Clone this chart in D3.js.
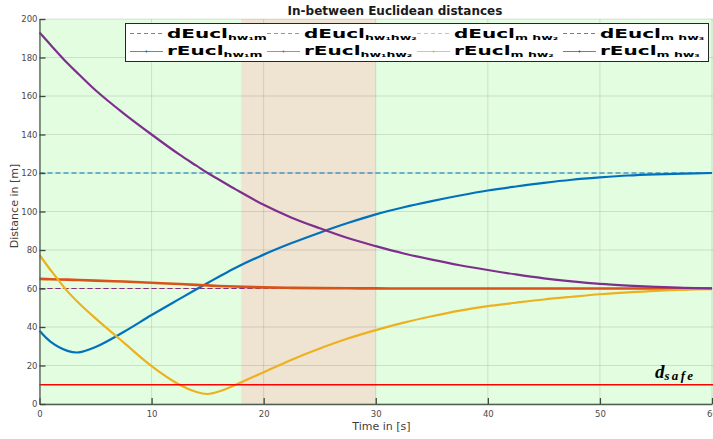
<!DOCTYPE html>
<html><head><meta charset="utf-8">
<script src="https://cdn.jsdelivr.net/npm/d3@7"></script>
<style>body{margin:0;background:#fff;} svg{display:block;}</style>
</head><body>
<svg id="c" width="713" height="439"></svg>
<script>
// ---------- data ----------
const timeS   = [0, 1, 2.5, 3.5, 5, 7.5, 10, 12.5, 14, 15, 16, 17.5, 20, 22.5, 25, 27.5, 30, 32.5, 35, 37.5, 40, 42.5, 45, 47.5, 50, 52.5, 55, 57.5, 60];
const rHw1m   = [38, 32.3, 27.6, 26.8, 29.6, 37.4, 46.2, 54.6, 59.6, 62.9, 66.1, 70.8, 77.6, 83.6, 89, 94, 98.5, 102.2, 105.4, 108.3, 110.9, 113, 114.9, 116.5, 117.7, 118.7, 119.3, 119.7, 120];
const rHw1hw2 = [65, 64.8, 64.6, 64.4, 64.1, 63.6, 63.0, 62.3, 61.9, 61.6, 61.3, 61.0, 60.6, 60.35, 60.2, 60.1, 60.05, 60.03, 60.02, 60.01, 60, 60, 60, 60, 60, 60, 60, 60, 60];
const rMhw2   = [77.4, 69.5, 58.5, 52.5, 44.5, 32, 19.7, 10, 6.2, 5.2, 6.5, 10, 16.5, 23, 28.8, 34, 38.4, 42.3, 45.6, 48.5, 50.8, 52.6, 54.3, 55.7, 57, 58, 58.8, 59.3, 59.7];
const rMhw3   = [193, 186.5, 177, 171.3, 163, 151, 140, 129.5, 123.8, 120, 116.6, 111.5, 103.5, 96.8, 91.3, 86.2, 82, 78.2, 75, 72.1, 69.6, 67.3, 65.3, 63.7, 62.4, 61.5, 60.8, 60.3, 60.1];
const dValues = [120, 60, 60, 60];
const seriesSub = ["hw\u2081m", "hw\u2081hw\u2082", "m hw\u2082", "m hw\u2083"];
const seriesColors = ["#0072BD", "#D95319", "#EDB120", "#7E2F8E"];
const dSafe = 10;
const shadeRange = [18, 30];
const xTicks = [0, 10, 20, 30, 40, 50, 60];
const yTicks = [0, 20, 40, 60, 80, 100, 120, 140, 160, 180, 200];
const titleText = "In-between Euclidean distances";
const xLabel = "Time in [s]";
const yLabel = "Distance in [m]";

// ---------- layout ----------
const svg = d3.select("#c");
const L = 39.5, R = 712, T = 19, B = 404;
const x = d3.scaleLinear().domain([0, 60]).range([L, R]);
const y = d3.scaleLinear().domain([0, 200]).range([B, T]);

// backgrounds
svg.append("rect").attr("x", L).attr("y", T).attr("width", 713 - L).attr("height", B - T).attr("fill", "#e3fde1");
svg.append("rect").attr("x", x(shadeRange[0])).attr("y", T)
  .attr("width", x(shadeRange[1]) - x(shadeRange[0])).attr("height", B - T).attr("fill", "#efe3d1");

// grid
const grid = svg.append("g").attr("stroke", "rgba(0,0,0,0.11)").attr("stroke-width", 1);
grid.selectAll("line.gx").data(xTicks).join("line").attr("class", "gx")
  .attr("x1", d => x(d)).attr("x2", d => x(d)).attr("y1", T).attr("y2", B);
grid.selectAll("line.gy").data(yTicks).join("line").attr("class", "gy")
  .attr("x1", L).attr("x2", 713).attr("y1", d => y(d)).attr("y2", d => y(d));

// series
const pts = vals => timeS.map((t, i) => [t, vals[i]]);
const line = d3.line().x(d => x(d[0])).y(d => y(d[1])).curve(d3.curveCatmullRom.alpha(0.5));
const rSeries = [rHw1m, rHw1hw2, rMhw2, rMhw3];

dValues.forEach((v, i) => {
  svg.append("line").attr("x1", x(0)).attr("x2", x(60)).attr("y1", y(v)).attr("y2", y(v))
    .attr("stroke", seriesColors[i]).attr("stroke-width", 1).attr("stroke-dasharray", "5,3");
});
rSeries.forEach((vals, i) => {
  svg.append("path").datum(pts(vals)).attr("d", line).attr("fill", "none")
    .attr("stroke", seriesColors[i]).attr("stroke-width", i === 1 ? 2.6 : 2.2);
});
svg.append("line").attr("x1", x(0)).attr("x2", 713).attr("y1", y(dSafe)).attr("y2", y(dSafe))
  .attr("stroke", "#ff0000").attr("stroke-width", 1.6);

// axes
const ax = svg.append("g").attr("transform", `translate(0,${B})`)
  .call(d3.axisBottom(x).tickValues(xTicks).tickSizeInner(-6).tickSizeOuter(0).tickPadding(7).tickFormat(d3.format("d")));
const ay = svg.append("g").attr("transform", `translate(${L},0)`)
  .call(d3.axisLeft(y).tickValues(yTicks).tickSizeInner(-6).tickSizeOuter(0).tickPadding(2).tickFormat(d3.format("d")));
[ax, ay].forEach(g => {
  g.select(".domain").attr("stroke", "#4f5f4f").attr("stroke-width", 1.3);
  g.selectAll(".tick line").attr("stroke", "#3a4a3a").attr("stroke-width", 1.3);
  g.selectAll(".tick text").attr("fill", "#4a4a4a").attr("font-family", "DejaVu Sans").attr("font-size", 8.5);
});

// labels
svg.append("text").attr("x", 395).attr("y", 15).attr("text-anchor", "middle")
  .attr("font-family", "DejaVu Sans").attr("font-weight", "bold").attr("font-size", 12).attr("fill", "#1a1a1a").text(titleText);
svg.append("text").attr("x", 381.5).attr("y", 430).attr("text-anchor", "middle")
  .attr("font-family", "DejaVu Sans").attr("font-size", 11).attr("fill", "#404040").text(xLabel);
svg.append("text").attr("transform", "translate(18,206) rotate(-90)").attr("text-anchor", "middle")
  .attr("font-family", "DejaVu Sans").attr("font-size", 11).attr("fill", "#404040").text(yLabel);

// d_safe label
const ds = svg.append("text").attr("x", 655).attr("y", 378)
  .attr("font-family", "Liberation Serif").attr("font-style", "italic").attr("font-weight", "bold")
  .attr("font-size", 19).attr("fill", "#000");
ds.append("tspan").text("d");
ds.append("tspan").attr("font-size", 13).attr("dy", 1.5).attr("letter-spacing", 2.3).text("safe");

// legend
svg.append("rect").attr("x", 125.5).attr("y", 23.5).attr("width", 583).attr("height", 38)
  .attr("fill", "#ffffff").attr("stroke", "#262626").attr("stroke-width", 1);
const tmp = svg.append("text").attr("font-family", "DejaVu Sans").attr("font-weight", "bold").attr("font-size", 12).text("dEucl");
const sx = 61 / tmp.node().getComputedTextLength();
tmp.remove();
const entryX = [130, 267, 417, 563];
const rows = [
  {prefix: "dEucl", dash: "4,3", ly: 33.5, base: 37.5},
  {prefix: "rEucl", dash: null, ly: 51.5, base: 54.5}
];
rows.forEach(row => {
  entryX.forEach((ex, i) => {
    const ln = svg.append("line").attr("x1", ex).attr("x2", ex + 33).attr("y1", row.ly).attr("y2", row.ly)
      .attr("stroke", seriesColors[i]).attr("stroke-width", 1).attr("opacity", 0.75);
    if (row.dash) ln.attr("stroke-dasharray", row.dash);
    else svg.append("circle").attr("cx", ex + 16.5).attr("cy", row.ly).attr("r", 1).attr("fill", seriesColors[i]);
    const g = svg.append("g").attr("transform", `translate(${ex + 37},${row.base}) scale(${sx},1)`);
    const t = g.append("text").attr("font-family", "DejaVu Sans").attr("font-weight", "bold").attr("fill", "#000");
    t.append("tspan").attr("font-size", 12).text(row.prefix);
    t.append("tspan").attr("font-size", 7.5).attr("dy", 2.5).text(seriesSub[i]);
  });
});
</script>
</body></html>
